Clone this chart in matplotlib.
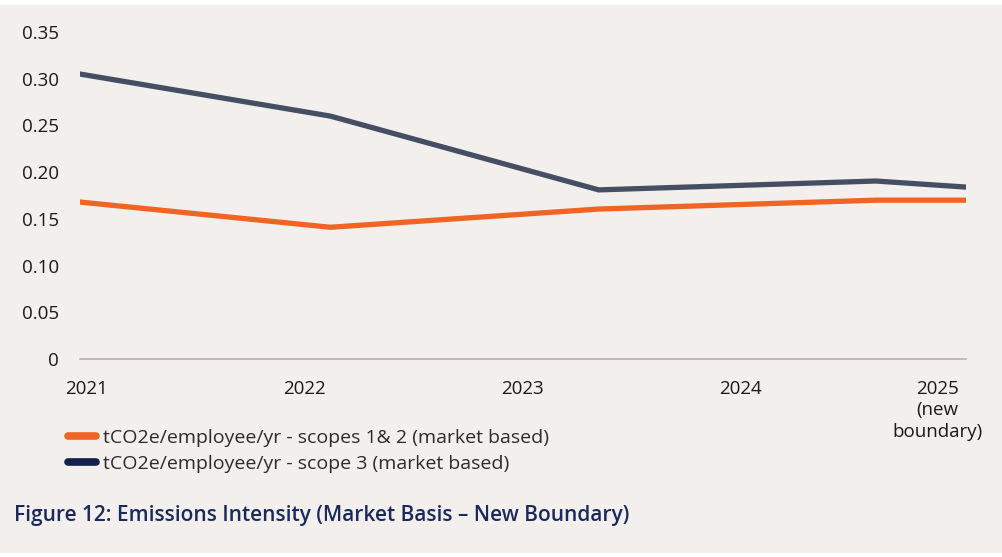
"""Emissions intensity line chart (market basis, new boundary)."""

import matplotlib

matplotlib.use("Agg")
import matplotlib.pyplot as plt
from matplotlib.lines import Line2D
from matplotlib.patches import Rectangle

# data
period_x = [2020.972, 2022.119, 2023.349, 2024.619, 2025.032]
scope12 = [0.168, 0.141, 0.1605, 0.170, 0.170]
scope3 = [0.305, 0.260, 0.181, 0.1905, 0.184]
year_ticks = [2021, 2022, 2023, 2024, 2024.90]
year_labels = ["2021", "2022", "2023", "2024", "2025\n(new\nboundary)"]
y_ticks = [0, 0.05, 0.10, 0.15, 0.20, 0.25, 0.30, 0.35]
y_labels = ["0", "0.05", "0.10", "0.15", "0.20", "0.25", "0.30", "0.35"]
series_names = [
    "tCO2e/employee/yr - scopes 1& 2 (market based)",
    "tCO2e/employee/yr - scope 3 (market based)",
]
title = "Figure 12: Emissions Intensity (Market Basis \u2013 New Boundary)"

BG = "#f2efec"
ORANGE = "#f06424"
SLATE = "#454e63"
NAVY = "#13214a"
TEXT = "#1a1a1a"

plt.rcParams["font.family"] = ["Open Sans", "DejaVu Sans"]

W, H = 1003, 557
fig = plt.figure(figsize=(W / 100, H / 100), dpi=100)
fig.patch.set_facecolor("white")
fig.patches.append(Rectangle((0, 4 / H), 1002 / W, (H - 9) / H, transform=fig.transFigure,
                             facecolor=BG, edgecolor="none", zorder=-10))

ax = fig.add_axes([80 / W, (H - 359) / H, 886 / W, (359 - 32) / H])
ax.set_facecolor("none")

ax.plot(period_x, scope3, color=SLATE, linewidth=3.8, solid_joinstyle="miter", zorder=3)
ax.plot(period_x, scope12, color=ORANGE, linewidth=3.8, solid_joinstyle="miter", zorder=3)

ax.set_xlim(period_x[0], period_x[-1])
ax.set_ylim(0, 0.35)
for side in ["top", "right", "left"]:
    ax.spines[side].set_visible(False)
ax.spines["bottom"].set_color("#b3b3b3")
ax.spines["bottom"].set_linewidth(1.2)

ax.set_yticks(y_ticks)
ax.set_yticklabels(y_labels)
ax.set_xticks(year_ticks)
ax.set_xticklabels(year_labels, linespacing=1.25)
ax.tick_params(axis="y", length=0, pad=15, labelsize=13.5, labelcolor=TEXT)
ax.tick_params(axis="x", length=0, pad=15, labelsize=13.5, labelcolor=TEXT)

handles = [
    Line2D([0], [0], color=ORANGE, linewidth=5.5, solid_capstyle="round"),
    Line2D([0], [0], color=NAVY, linewidth=5.5, solid_capstyle="round"),
]
fig.legend(handles, series_names, loc="upper left", bbox_to_anchor=(68 / W, 1 - 429 / H),
           frameon=False, fontsize=14, handlelength=1.45, handletextpad=0.35,
           labelspacing=0.42, labelcolor="#2b2b2b", borderpad=0, borderaxespad=0)

fig.text(14 / W, 1 - 516 / H, title, fontsize=15, fontweight="semibold", color="#1b2a5c",
         ha="left", va="center")

fig.savefig("out.png", dpi=100, facecolor=fig.get_facecolor())
